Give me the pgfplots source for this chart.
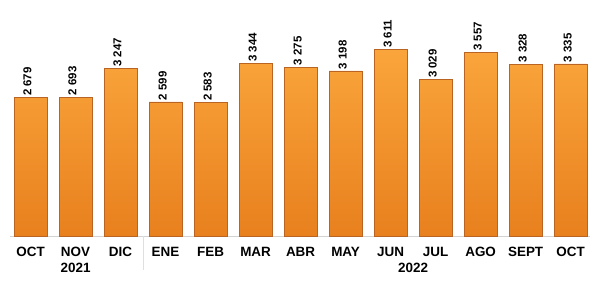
\documentclass[border=0pt]{standalone}
\usepackage{pgfplots}
\pgfplotsset{compat=1.18}
\usepackage{fontspec}
\setmainfont{Liberation Sans}
\definecolor{bartop}{RGB}{250,165,60}
\definecolor{barbot}{RGB}{232,128,30}
\definecolor{baredge}{RGB}{185,100,35}
\begin{document}
\begin{tikzpicture}
\useasboundingbox (0,0) rectangle (603bp,284bp);
\begin{axis}[
  at={(10bp,48bp)}, anchor=south west,
  scale only axis, width=580bp, height=236bp,
  xmin=-0.456, xmax=12.43, ymin=0, ymax=4574,
  axis x line*=bottom, axis y line=none,
  x axis line style={draw=gray!35, line width=0.8pt, -},
  major tick length=0pt,
  ybar, bar width=33bp,
  xtick=data,
  xticklabels={OCT,NOV,DIC,ENE,FEB,MAR,ABR,MAY,JUN,JUL,AGO,SEPT,OCT},
  xticklabel style={font=\bfseries\fontsize{13.5}{15}\selectfont, yshift=-8bp},
  ytick=\empty,
  clip=false,
  nodes near coords={\pgfmathprintnumber[1000 sep={\ },assume math mode=true]{\pgfplotspointmeta}},
  every node near coord/.append style={rotate=90, anchor=west, font=\bfseries\fontsize{11.5}{13}\selectfont, inner sep=1.5pt, yshift=3bp},
]
\addplot[draw=baredge, line width=0.6pt, top color=bartop, bottom color=barbot] coordinates {
(0,2679) (1,2693) (2,3247) (3,2599) (4,2583) (5,3344) (6,3275) (7,3198) (8,3611) (9,3029) (10,3557) (11,3328) (12,3335)};
\draw[gray!25, line width=0.8pt] (axis cs:2.5,0) -- ([yshift=-34bp]axis cs:2.5,0);
\node[font=\bfseries\fontsize{13.5}{15}\selectfont] at ([yshift=-32bp]axis cs:1,0) {2021};
\node[font=\bfseries\fontsize{13.5}{15}\selectfont] at ([yshift=-32bp]axis cs:8.5,0) {2022};
\end{axis}
\end{tikzpicture}
\end{document}
